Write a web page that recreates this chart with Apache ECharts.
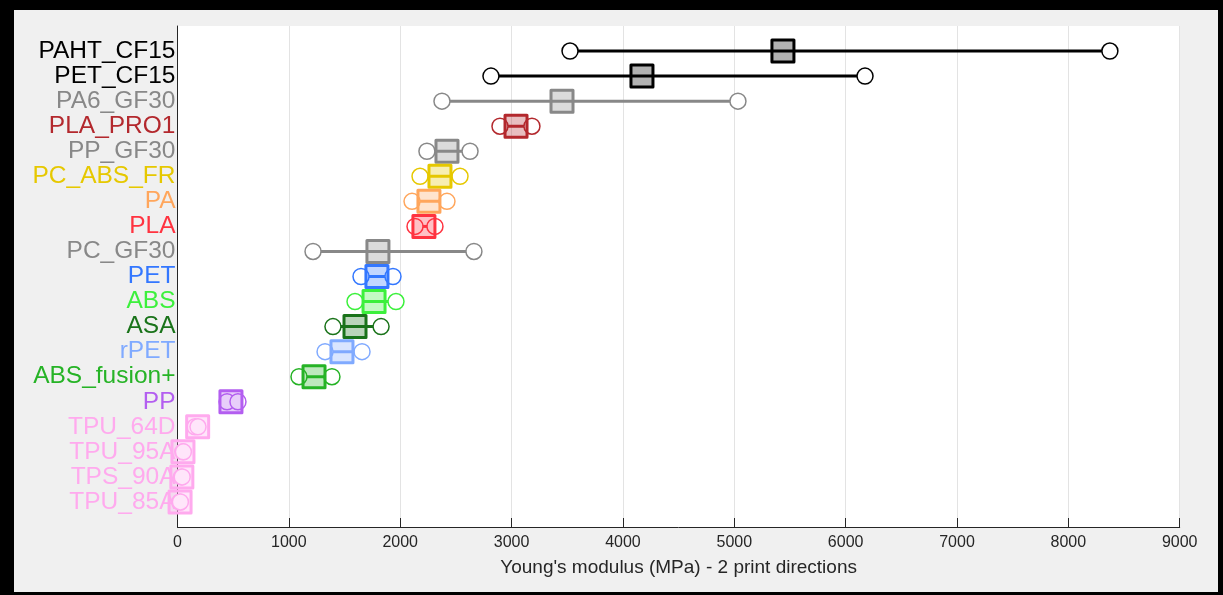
<!DOCTYPE html>
<html>
<head>
<meta charset="utf-8">
<script src="https://cdn.jsdelivr.net/npm/echarts@6/dist/echarts.min.js"></script>
<style>
  html, body { margin: 0; padding: 0; width: 1223px; height: 595px; background: #000; overflow: hidden; }
  #frame { position: absolute; left: 14px; top: 10px; width: 1204px; height: 582px; background: #f0f0f0; }
  #chart { width: 1204px; height: 582px; }
</style>
</head>
<body>
<div id="frame"><div id="chart"></div></div>
<script>
// ---- data (top to bottom) ----
const categories = ['PAHT_CF15','PET_CF15','PA6_GF30','PLA_PRO1','PP_GF30','PC_ABS_FR','PA','PLA','PC_GF30','PET','ABS','ASA','rPET','ABS_fusion+','PP','TPU_64D','TPU_95A','TPS_90A','TPU_85A'];
const minValues  = [3525, 2815, 2375, 2896, 2240, 2178, 2106, 2133, 1217, 1648, 1594, 1396, 1325, 1091, 445, 157, 47, 36, 20];
const meanValues = [5437, 4171, 3453, 3040, 2420, 2357, 2258, 2213, 1800, 1791, 1765, 1594, 1477, 1226, 480, 181, 49, 39, 23];
const maxValues  = [8373, 6174, 5033, 3183, 2627, 2537, 2420, 2312, 2662, 1935, 1962, 1828, 1657, 1387, 543, 184, 53, 42, 26];
const colors = ['#000000','#000000','#888888','#b3282d','#888888','#e6c800','#ffa65c','#ff3340','#888888','#3377ff','#3cf03c','#1a731a','#80aaff','#26b326','#b35ef0','#ffaaee','#ffaaee','#ffaaee','#ffaaee'];
const xTicks = { min: 0, max: 9000, interval: 1000 };
const xTitle = "Young's modulus (MPa) - 2 print directions";

function hexToRgba(hex, a) {
  const n = parseInt(hex.slice(1), 16);
  return 'rgba(' + ((n >> 16) & 255) + ',' + ((n >> 8) & 255) + ',' + (n & 255) + ',' + a + ')';
}

const rows = categories.map((c, i) => i + 1);

const lineData = categories.map((c, i) => [minValues[i], maxValues[i], rows[i]]);
const circleData = [];
categories.forEach((c, i) => {
  circleData.push({ value: [minValues[i], rows[i]], itemStyle: { color: '#ffffff', borderColor: colors[i] } });
  circleData.push({ value: [maxValues[i], rows[i]], itemStyle: { color: '#ffffff', borderColor: colors[i] } });
});
const boxData = categories.map((c, i) => ({
  value: [meanValues[i], rows[i]],
  itemStyle: { color: hexToRgba(colors[i], 0.3), borderColor: colors[i] }
}));

const FONT = '"Liberation Sans", Arial, Helvetica, sans-serif';
const chart = echarts.init(document.getElementById('chart'), null, { renderer: 'canvas' });
chart.setOption({
  animation: false,
  backgroundColor: '#f0f0f0',
  grid: { left: 163.5, right: 38.3, top: 16, bottom: 65, show: true, backgroundColor: '#ffffff', borderWidth: 0 },
  xAxis: {
    type: 'value', min: xTicks.min, max: xTicks.max, interval: xTicks.interval,
    axisLine: { show: true, onZero: false, lineStyle: { color: '#262626', width: 1 } },
    axisTick: { show: true, inside: true, length: 9, lineStyle: { color: '#262626' } },
    splitLine: { show: true, lineStyle: { color: '#e3e3e3', width: 1 } },
    axisLabel: { fontSize: 16, color: '#262626', margin: 8, fontFamily: FONT, formatter: function (v) { return String(v); } },
    name: xTitle, nameLocation: 'middle', nameGap: 31,
    nameTextStyle: { fontSize: 19, color: '#262626', fontFamily: FONT }
  },
  yAxis: {
    type: 'value', inverse: true, min: 0, max: 20, interval: 1,
    axisLine: { show: true, lineStyle: { color: '#262626', width: 1 } },
    axisTick: { show: false },
    splitLine: { show: false },
    axisLabel: {
      fontSize: 24.5, margin: 2, fontFamily: FONT,
      formatter: function (v) { return categories[v - 1] || ''; },
      color: function (v) { return colors[v - 1] || '#262626'; }
    }
  },
  series: [
    {
      type: 'custom', z: 2, data: lineData,
      encode: { x: [0, 1], y: 2 },
      renderItem: function (params, api) {
        const i = params.dataIndex;
        const p1 = api.coord([api.value(0), api.value(2)]);
        const p2 = api.coord([api.value(1), api.value(2)]);
        return { type: 'line', shape: { x1: p1[0], y1: p1[1], x2: p2[0], y2: p2[1] },
                 style: { stroke: colors[i], lineWidth: 3 } };
      }
    },
    {
      type: 'scatter', z: 3, symbol: 'circle', symbolSize: 16, data: circleData,
      itemStyle: { borderWidth: 1.5, opacity: 1 }
    },
    {
      type: 'scatter', z: 4, symbol: 'rect', symbolSize: 22, data: boxData,
      itemStyle: { borderWidth: 3, borderJoin: 'round', opacity: 1 }
    }
  ]
});
</script>
</body>
</html>
